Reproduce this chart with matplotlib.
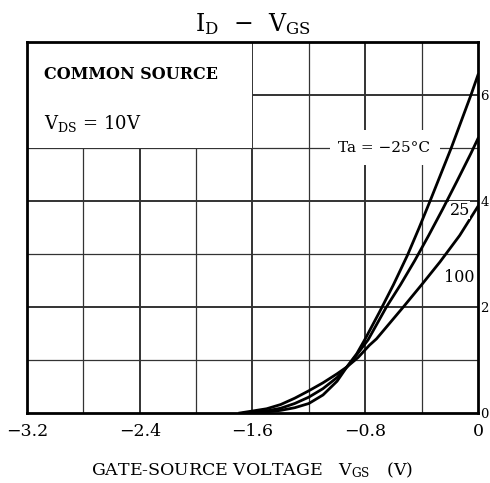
import matplotlib.pyplot as plt
import matplotlib.patches as patches

plt.rcParams['font.family'] = ['DejaVu Serif']
plt.rcParams['mathtext.fontset'] = 'dejavuserif'

# Ta = -25 C
vgs_m25 = [-1.62, -1.5, -1.4, -1.3, -1.2, -1.1, -1.0, -0.93, -0.86, -0.8, -0.7, -0.6,
           -0.5, -0.42, -0.34, -0.265, -0.19, -0.12, -0.05, 0.0]
id_m25 = [0.0, 0.02, 0.05, 0.1, 0.18, 0.34, 0.6, 0.87, 1.12, 1.4, 1.9, 2.42,
          2.98, 3.48, 4.0, 4.5, 5.0, 5.5, 6.0, 6.38]
# Ta = 25 C
vgs_25 = [-1.66, -1.5, -1.4, -1.3, -1.2, -1.1, -1.0, -0.93, -0.86, -0.78, -0.65, -0.55,
          -0.45, -0.35, -0.25, -0.15, -0.05, 0.0]
id_25 = [0.0, 0.04, 0.09, 0.18, 0.3, 0.46, 0.67, 0.87, 1.1, 1.38, 2.0, 2.42,
         2.87, 3.35, 3.85, 4.37, 4.9, 5.18]
# Ta = 100 C
vgs_100 = [-1.69, -1.5, -1.4, -1.3, -1.2, -1.1, -1.0, -0.93, -0.85, -0.77, -0.72, -0.53,
           -0.4, -0.27, -0.13, 0.0]
id_100 = [0.0, 0.08, 0.16, 0.28, 0.42, 0.57, 0.74, 0.87, 1.05, 1.28, 1.4, 2.0,
          2.42, 2.85, 3.35, 3.9]

xticks = [-3.2, -2.4, -1.6, -0.8, 0]
xtick_labels = ['\u22123.2', '\u22122.4', '\u22121.6', '\u22120.8', '0']
yticks = [0, 2, 4, 6]

fig = plt.figure(figsize=(4.9, 4.83), dpi=100)
ax = fig.add_axes([0.0551, 0.1449, 0.9204, 0.7681])
ax.set_xlim(-3.2, 0)
ax.set_ylim(0, 7)

# grid: thin at every 0.4 V / 1 unit, heavier at 0.8 V / 2 units
for i in range(1, 8):
    x = -3.2 + 0.4 * i
    lw = 1.4 if i % 2 == 0 else 0.9
    ax.axvline(x, color='#333333', lw=lw, zorder=1)
for y in range(1, 7):
    lw = 1.4 if y % 2 == 0 else 0.9
    ax.axhline(y, color='#333333', lw=lw, zorder=1)

# white panel for the condition text
ax.add_patch(patches.Rectangle((-3.2, 5.0), 1.6, 2.0, facecolor='white',
                               edgecolor='none', zorder=2))
ax.text(-3.08, 6.38, 'COMMON SOURCE', fontsize=11.5, fontweight='bold',
        va='center', ha='left', zorder=3)
ax.text(-3.08, 5.47, r'$\mathrm{V_{DS}}$ = 10V', fontsize=13, va='center',
        ha='left', zorder=3)

for vx, vy in [(vgs_m25, id_m25), (vgs_25, id_25), (vgs_100, id_100)]:
    ax.plot(vx, vy, color='black', lw=2.0, zorder=4, solid_joinstyle='round')

# gap in the grid around the temperature label
ax.add_patch(patches.Rectangle((-1.05, 4.68), 0.78, 0.66, facecolor='white',
                               edgecolor='none', zorder=3))
ax.text(-0.665, 5.0, 'Ta = \u221225\u00b0C', fontsize=11, ha='center', va='center',
        zorder=5)
ax.text(-0.13, 3.83, '25', fontsize=11.5, ha='center', va='center', zorder=5,
        bbox=dict(facecolor='white', edgecolor='none', pad=0.5))
ax.text(-0.13, 2.55, '100', fontsize=11.5, ha='center', va='center', zorder=5)

ax.set_xticks(xticks)
ax.set_xticklabels(xtick_labels, fontsize=12.5)
ax.set_yticks(yticks)
ax.yaxis.tick_right()
ax.set_yticklabels([str(v) for v in yticks], fontsize=9.5)
ax.tick_params(axis='x', length=0, pad=7)
ax.tick_params(axis='y', length=0, pad=1.5)

for s in ax.spines.values():
    s.set_linewidth(2.0)
    s.set_zorder(6)

ax.set_title(r'$\mathrm{I_D}$  $-$  $\mathrm{V_{GS}}$', fontsize=17, pad=8)
ax.set_xlabel(r'GATE-SOURCE VOLTAGE   $\mathrm{V_{GS}}$   (V)', fontsize=12.5,
              labelpad=15)

fig.savefig('out.png', dpi=100)
